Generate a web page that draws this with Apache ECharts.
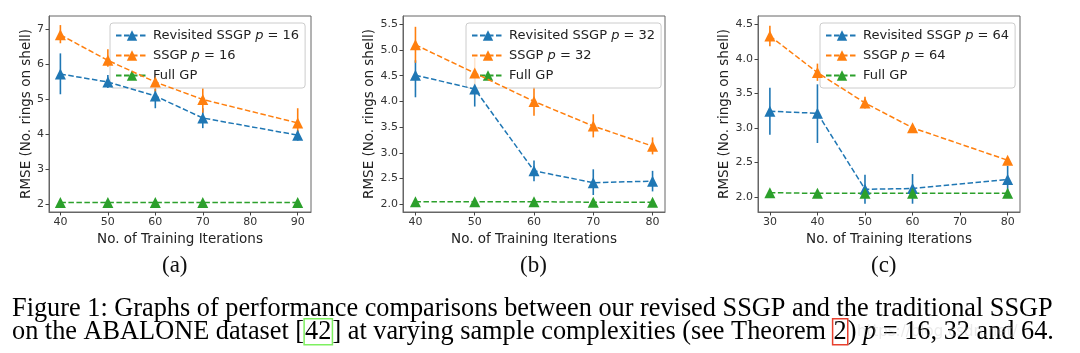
<!DOCTYPE html>
<html>
<head>
<meta charset="utf-8">
<script src="https://cdn.jsdelivr.net/npm/echarts@6/dist/echarts.min.js"></script>
<style>
  html, body { margin: 0; padding: 0; background: #fff; }
  #chart { width: 1080px; height: 353px; }
</style>
</head>
<body>
<div id="chart"></div>
<script>
// (a) p = 16
const iterA = [40, 50, 60, 70, 90];
const revA = [5.73, 5.50, 5.10, 4.47, 3.98];
const revALo = [5.15, 5.33, 4.75, 4.18, 3.82];
const revAHi = [6.32, 5.70, 5.30, 4.75, 4.12];
const ssgpA = [6.85, 6.12, 5.50, 5.00, 4.33];
const ssgpALo = [6.61, 5.94, 5.22, 4.62, 3.95];
const ssgpAHi = [7.13, 6.44, 5.78, 5.32, 4.75];
const fullA = [2.05, 2.05, 2.05, 2.05, 2.05];

// (b) p = 32
const iterB = [40, 50, 60, 70, 80];
const revB = [4.51, 4.24, 2.65, 2.42, 2.45];
const revBLo = [4.08, 3.90, 2.45, 2.18, 2.25];
const revBHi = [4.80, 4.50, 2.85, 2.68, 2.65];
const ssgpB = [5.10, 4.55, 4.00, 3.52, 3.13];
const ssgpBLo = [4.75, 4.25, 3.72, 3.30, 2.97];
const ssgpBHi = [5.45, 4.85, 4.28, 3.75, 3.30];
const fullB = [2.05, 2.05, 2.05, 2.04, 2.04];

// (c) p = 64
const iterC = [30, 40, 50, 60, 80];
const revC = [3.24, 3.21, 2.11, 2.12, 2.25];
const revCLo = [2.90, 2.78, 1.90, 1.90, 2.05];
const revCHi = [3.58, 3.63, 2.32, 2.33, 2.45];
const ssgpC = [4.33, 3.80, 3.36, 3.00, 2.53];
const ssgpCLo = [4.18, 3.68, 3.28, 2.97, 2.50];
const ssgpCHi = [4.48, 3.93, 3.45, 3.03, 2.56];
const fullC = [2.06, 2.05, 2.05, 2.05, 2.05];

// tick labels
const xTicksA = [40, 50, 60, 70, 80, 90];
const xTicksB = [40, 50, 60, 70, 80];
const xTicksC = [30, 40, 50, 60, 70, 80];
const yTicksA = [2, 3, 4, 5, 6, 7];
const yTicksB = [2.0, 2.5, 3.0, 3.5, 4.0, 4.5, 5.0, 5.5];
const yTicksC = [2.0, 2.5, 3.0, 3.5, 4.0, 4.5];

const BLUE = '#1f77b4', ORANGE = '#ff7f0e', GREEN = '#2ca02c';
const FONT = '"DejaVu Sans", sans-serif';
const SERIF = '"Liberation Serif", "DejaVu Serif", serif';

const panels = [
  { p: 16, left: 49, xMin: 37.6, xMax: 92.8, yMin: 1.78, yMax: 7.39, xTicks: xTicksA, yTicks: yTicksA, dec: 0, yGap: 16, legLeft: 110,
    iter: iterA, rev: revA, revLo: revALo, revHi: revAHi, ssgp: ssgpA, ssgpLo: ssgpALo, ssgpHi: ssgpAHi, full: fullA },
  { p: 32, left: 403, xMin: 37.9, xMax: 82.1, yMin: 1.85, yMax: 5.66, xTicks: xTicksB, yTicks: yTicksB, dec: 1, yGap: 25, legLeft: 466,
    iter: iterB, rev: revB, revLo: revBLo, revHi: revBHi, ssgp: ssgpB, ssgpLo: ssgpBLo, ssgpHi: ssgpBHi, full: fullB },
  { p: 64, left: 758, xMin: 27.5, xMax: 82.6, yMin: 1.78, yMax: 4.62, xTicks: xTicksC, yTicks: yTicksC, dec: 1, yGap: 25, legLeft: 820,
    iter: iterC, rev: revC, revLo: revCLo, revHi: revCHi, ssgp: ssgpC, ssgpLo: ssgpCLo, ssgpHi: ssgpCHi, full: fullC }
];

const grids = [], xAxes = [], yAxes = [], legends = [], series = [];

// vertical error bar drawn through the axes
function errBars(name, i, xs, lo, hi, color) {
  return {
    type: 'custom', name: name + ' err', xAxisIndex: i, yAxisIndex: i, z: 3, silent: true,
    data: xs.map((x, k) => [x, lo[k], hi[k]]),
    renderItem: (params, api) => {
      const a = api.coord([api.value(0), api.value(1)]);
      const b = api.coord([api.value(0), api.value(2)]);
      return { type: 'line', shape: { x1: a[0], y1: a[1], x2: b[0], y2: b[1] },
        style: { stroke: color, lineWidth: 1.6 } };
    }
  };
}

function lineSeries(name, i, xs, ys, color) {
  return {
    type: 'line', name: name, xAxisIndex: i, yAxisIndex: i, z: 4,
    data: xs.map((x, k) => [x, ys[k]]),
    symbol: 'triangle', symbolSize: 11, showSymbol: true,
    lineStyle: { color: color, width: 1.5, type: [5.5, 2.5] },
    itemStyle: { color: color },
    emphasis: { disabled: true }
  };
}

panels.forEach((pn, i) => {
  grids.push({ left: pn.left, top: 16, width: 262, height: 196, show: true,
    borderColor: '#666', borderWidth: 1, backgroundColor: 'transparent' });
  xAxes.push({
    type: 'value', gridIndex: i, min: pn.xMin, max: pn.xMax,
    name: 'No. of Training Iterations', nameLocation: 'middle', nameGap: 15,
    nameTextStyle: { fontFamily: FONT, fontSize: 13.5, color: '#222' },
    axisLine: { show: true, lineStyle: { color: '#666' } },
    axisTick: { show: true, length: 3.5, customValues: pn.xTicks, lineStyle: { color: '#444' } },
    axisLabel: { customValues: pn.xTicks, fontFamily: FONT, fontSize: 11, color: '#333', margin: 5 },
    splitLine: { show: false }
  });
  yAxes.push({
    type: 'value', gridIndex: i, min: pn.yMin, max: pn.yMax,
    name: 'RMSE (No. rings on shell)', nameLocation: 'middle', nameGap: pn.yGap,
    nameTextStyle: { fontFamily: FONT, fontSize: 13.5, color: '#222' },
    axisLine: { show: true, lineStyle: { color: '#666' } },
    axisTick: { show: true, length: 3.5, customValues: pn.yTicks, lineStyle: { color: '#444' } },
    axisLabel: { customValues: pn.yTicks, fontFamily: FONT, fontSize: 11, color: '#333', margin: 5,
      formatter: v => v.toFixed(pn.dec) },
    splitLine: { show: false }
  });
  const nRev = 'Revisited SSGP p = ' + pn.p;
  const nSsgp = 'SSGP p = ' + pn.p;
  legends.push({
    orient: 'vertical', left: pn.legLeft, top: 23, itemWidth: 32, itemHeight: 13, itemGap: 7,
    padding: [6, 6, 6, 5], borderColor: '#ccc', borderWidth: 1, borderRadius: 3,
    backgroundColor: 'rgba(255,255,255,0.8)', selectedMode: false,
    data: [nRev, nSsgp, 'Full GP'],
    formatter: n => {
      const m = n.match(/^(.*)p = (\d+)$/);
      return m ? '{n|' + m[1] + '}{i|p}{n| = ' + m[2] + '}' : '{n|' + n + '}';
    },
    textStyle: { rich: {
      n: { fontFamily: FONT, fontSize: 13, color: '#222' },
      i: { fontFamily: FONT, fontSize: 13, fontStyle: 'italic', color: '#222' }
    } }
  });
  series.push(lineSeries(nRev, i, pn.iter, pn.rev, BLUE));
  series.push(errBars(nRev, i, pn.iter, pn.revLo, pn.revHi, BLUE));
  series.push(lineSeries(nSsgp, i, pn.iter, pn.ssgp, ORANGE));
  series.push(errBars(nSsgp, i, pn.iter, pn.ssgpLo, pn.ssgpHi, ORANGE));
  series.push(lineSeries('Full GP', i, pn.iter, pn.full, GREEN));
});

const CAP = 26.3;
const capRich = {
  t: { fontFamily: SERIF, fontSize: CAP, color: '#111' },
  it: { fontFamily: SERIF, fontSize: CAP, fontStyle: 'italic', color: '#111' },
  g: { fontFamily: SERIF, fontSize: CAP, color: '#111', borderColor: '#7ef060', borderWidth: 1.5, padding: [0, 1] },
  r: { fontFamily: SERIF, fontSize: CAP, color: '#111', borderColor: '#e8402e', borderWidth: 1.5, padding: [0, 1] }
};

const graphics = [
  { type: 'text', left: 162, top: 254, style: { text: '(a)', font: '23px ' + SERIF, fill: '#111' } },
  { type: 'text', left: 520, top: 254, style: { text: '(b)', font: '23px ' + SERIF, fill: '#111' } },
  { type: 'text', left: 871, top: 254, style: { text: '(c)', font: '23px ' + SERIF, fill: '#111' } },
  { type: 'text', left: 12, top: 296, style: { rich: capRich,
      text: '{t|Figure 1: Graphs of performance comparisons between our revised SSGP and the traditional SSGP}' } },
  { type: 'text', left: 12, top: 318, style: { rich: capRich,
      text: '{t|on the ABALONE dataset [}{g|42}{t|] at varying sample complexities (see Theorem }{r|2}{t|) }{it|p}{t| = 16, 32 and 64.}' } },
  { type: 'text', left: 857, top: 325, z: 10, style: { text: 'https://blog.csdn.net/', font: '15px ' + FONT, fill: 'rgba(190,190,190,0.3)' } }
];

const chart = echarts.init(document.getElementById('chart'), null, { renderer: 'canvas' });
chart.setOption({
  animation: false,
  backgroundColor: '#fff',
  grid: grids, xAxis: xAxes, yAxis: yAxes, legend: legends, series: series,
  graphic: graphics
});
</script>
</body>
</html>
